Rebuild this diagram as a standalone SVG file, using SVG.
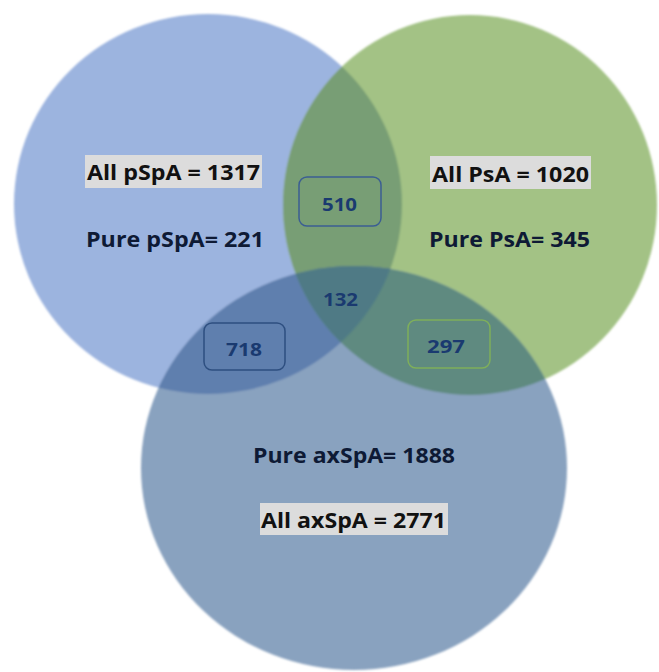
<svg xmlns="http://www.w3.org/2000/svg" width="659" height="672" viewBox="0 0 659 672">
  <style>
    .lbl { font-family: "Open Sans", "Liberation Sans", sans-serif; font-weight: bold; font-size: 22px; }
    .all { fill: #111111; }
    .pure { fill: #0e1a35; }
    .hl { fill: #dcdcdc; }
    .num { font-family: "Open Sans", "Liberation Sans", sans-serif; font-weight: bold; font-size: 18.5px; fill: #1a3a70; }
    .box { fill: none; stroke-width: 1.5; }
  </style>
  <defs>
    <clipPath id="cA"><ellipse cx="208" cy="204" rx="194" ry="190"/></clipPath>
    <clipPath id="cB"><ellipse cx="470" cy="205" rx="187" ry="190"/></clipPath>
    <filter id="soft" x="-5%" y="-5%" width="110%" height="110%"><feGaussianBlur stdDeviation="0.9"/></filter>
  </defs>
  <rect width="659" height="672" fill="#ffffff"/>
  <g id="sets" filter="url(#soft)">
    <g id="set-pSpA"><ellipse cx="208" cy="204" rx="194" ry="190" fill="#9cb4df"/></g>
    <g id="set-PsA"><ellipse cx="470" cy="205" rx="187" ry="190" fill="#a3c285"/></g>
    <g id="set-axSpA"><ellipse cx="354" cy="468" rx="213" ry="202" fill="#89a2bf"/></g>
    <g id="overlap-pSpA-PsA"><ellipse cx="470" cy="205" rx="187" ry="190" fill="#789e75" clip-path="url(#cA)"/></g>
    <g id="overlap-pSpA-axSpA"><ellipse cx="354" cy="468" rx="213" ry="202" fill="#5f7fae" clip-path="url(#cA)"/></g>
    <g id="overlap-PsA-axSpA"><ellipse cx="354" cy="468" rx="213" ry="202" fill="#5f8a80" clip-path="url(#cB)"/></g>
    <g id="overlap-all" clip-path="url(#cA)"><ellipse cx="354" cy="468" rx="213" ry="202" fill="#4f7a85" clip-path="url(#cB)"/></g>
  </g>
  <g id="label-pSpA">
    <rect class="hl" x="85" y="155" width="177" height="33"/>
    <text class="lbl all" x="87" y="180" textLength="173" lengthAdjust="spacingAndGlyphs">All pSpA = 1317</text>
    <text class="lbl pure" x="86" y="247" textLength="178" lengthAdjust="spacingAndGlyphs">Pure pSpA= 221</text>
  </g>
  <g id="label-PsA">
    <rect class="hl" x="430" y="156" width="161" height="33"/>
    <text class="lbl all" x="432" y="182" textLength="157" lengthAdjust="spacingAndGlyphs">All PsA = 1020</text>
    <text class="lbl pure" x="429" y="247" textLength="161" lengthAdjust="spacingAndGlyphs">Pure PsA= 345</text>
  </g>
  <g id="label-axSpA">
    <text class="lbl pure" x="253" y="463" textLength="202" lengthAdjust="spacingAndGlyphs">Pure axSpA= 1888</text>
    <rect class="hl" x="260" y="503" width="188" height="32"/>
    <text class="lbl all" x="261" y="528" textLength="185" lengthAdjust="spacingAndGlyphs">All axSpA = 2771</text>
  </g>
  <g id="count-510">
    <rect class="box" x="299" y="177" width="82" height="49" rx="8" stroke="#3b5e93"/>
    <text class="num" x="322" y="211" textLength="35" lengthAdjust="spacingAndGlyphs">510</text>
  </g>
  <g id="count-132">
    <text class="num" x="323" y="306" textLength="35" lengthAdjust="spacingAndGlyphs">132</text>
  </g>
  <g id="count-718">
    <rect class="box" x="204" y="323" width="81" height="47" rx="8" stroke="#2e4f80"/>
    <text class="num" x="226" y="356" textLength="36" lengthAdjust="spacingAndGlyphs">718</text>
  </g>
  <g id="count-297">
    <rect class="box" x="408" y="320" width="82" height="48" rx="8" stroke="#7faf5a"/>
    <text class="num" x="427" y="353" textLength="38" lengthAdjust="spacingAndGlyphs">297</text>
  </g>
</svg>
